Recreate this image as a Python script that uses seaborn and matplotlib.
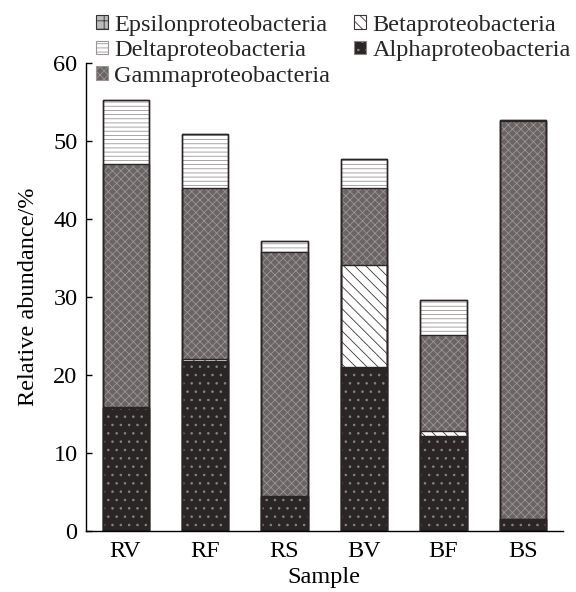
import matplotlib
matplotlib.use("Agg")
import matplotlib.pyplot as plt
from matplotlib.patches import Patch, Rectangle
import seaborn as sns
import pandas as pd
import numpy as np

samples = ["RV", "RF", "RS", "BV", "BF", "BS"]
alpha = [15.8, 21.8, 4.3, 21.0, 12.2, 1.5]
beta = [0.1, 0.3, 0.2, 13.1, 0.6, 0.0]
gamma = [31.1, 21.8, 31.3, 9.8, 12.3, 51.1]
delta = [8.2, 7.0, 1.3, 3.8, 4.5, 0.1]
epsilon = [0.0, 0.0, 0.0, 0.0, 0.0, 0.0]

layers = ["Alphaproteobacteria", "Betaproteobacteria", "Gammaproteobacteria",
          "Deltaproteobacteria", "Epsilonproteobacteria"]
values = [alpha, beta, gamma, delta, epsilon]

styles = {
    "Alphaproteobacteria": dict(face="#2b2626", hatchc="#8a8585", hatch=".."),
    "Betaproteobacteria": dict(face="#ffffff", hatchc="#3a3535", hatch="\\\\\\"),
    "Gammaproteobacteria": dict(face="#6a6464", hatchc="#9b9595", hatch="xxxx"),
    "Deltaproteobacteria": dict(face="#ffffff", hatchc="#9a9696", hatch="----"),
    "Epsilonproteobacteria": dict(face="#bbbbbb", hatchc="#333333", hatch="++"),
}

sns.set_theme(style="ticks")
plt.rcParams["font.family"] = ["Liberation Serif", "DejaVu Serif"]
plt.rcParams["hatch.linewidth"] = 0.6

cum = np.zeros(len(samples))
cums = []
for name, v in zip(layers, values):
    cum = cum + np.array(v)
    cums.append(cum.copy())

FS = 17.5
fig = plt.figure(figsize=(5.76, 5.92), dpi=100)
ax = fig.add_axes([0.149, 0.103, 0.828, 0.791])

# draw from the top layer down so lower segments overlay
for name, c in reversed(list(zip(layers, cums))):
    st = styles[name]
    d = pd.DataFrame({"Sample": samples, "value": c})
    n0 = len(ax.patches)
    sns.barplot(data=d, x="Sample", y="value", order=samples, color=st["face"],
                saturation=1, width=0.58, ax=ax, hatch=st["hatch"],
                edgecolor=st["hatchc"], linewidth=0)
    for p in ax.patches[n0:]:
        p.set_facecolor(st["face"])
        ax.add_patch(Rectangle(p.get_xy(), p.get_width(), p.get_height(),
                               fill=False, edgecolor="#2a2424", linewidth=1.0,
                               zorder=p.get_zorder() + 0.01))

ax.set_xlim(-0.5, 5.5)
ax.set_ylim(0, 60)
ax.set_yticks([0, 10, 20, 30, 40, 50, 60])
ax.tick_params(axis="y", direction="in", length=4, width=1, labelsize=FS,
               color="black", pad=6)
ax.tick_params(axis="x", length=0, labelsize=FS, pad=7)
for lab in ax.get_xticklabels() + ax.get_yticklabels():
    lab.set_color("black")
ax.set_xlabel("Sample", fontsize=FS, color="black", labelpad=4)
ax.set_ylabel("Relative abundance/%", fontsize=FS, color="black", labelpad=10)
for s in ["top", "right"]:
    ax.spines[s].set_visible(False)
for s in ["left", "bottom"]:
    ax.spines[s].set_color("black")
    ax.spines[s].set_linewidth(1.0)

order = ["Epsilonproteobacteria", "Deltaproteobacteria", "Gammaproteobacteria",
         "Betaproteobacteria", "Alphaproteobacteria"]
handles = [Patch(facecolor=styles[n]["face"], edgecolor=styles[n]["hatchc"],
                 hatch=styles[n]["hatch"], linewidth=0.8, label=n) for n in order]
leg = fig.legend(handles=handles, loc="upper left", bbox_to_anchor=(0.166, 0.975),
                 ncol=2, frameon=False, fontsize=FS, handlelength=0.5,
                 handleheight=0.5, handletextpad=0.25, labelspacing=0.18,
                 columnspacing=1.0, borderaxespad=0, borderpad=0)

fig.savefig("out.png", dpi=100, facecolor="white")
